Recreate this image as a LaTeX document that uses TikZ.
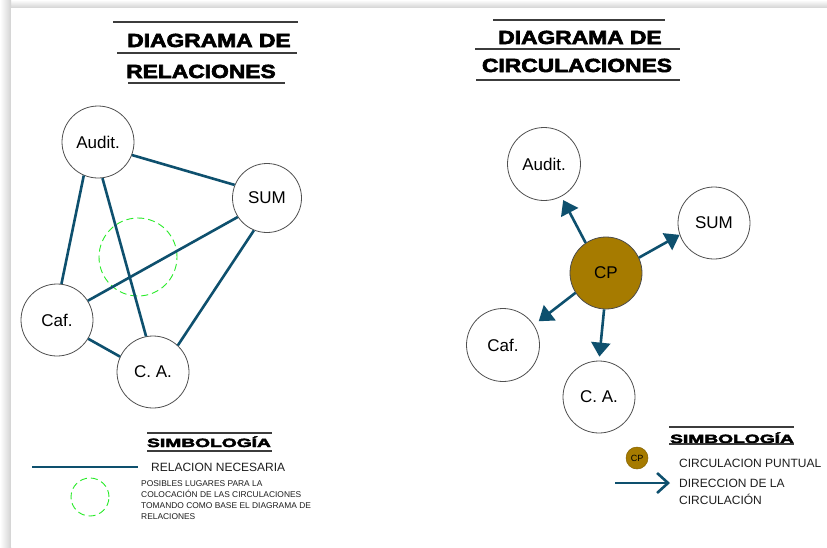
\documentclass[tikz,border=0pt]{standalone}
\usepackage{fontspec}
\setmainfont{Liberation Sans}
\newfontfamily\titlefont[BoldFeatures={FakeBold=3}]{Liberation Sans}
\usetikzlibrary{arrows.meta}
\definecolor{linkcol}{RGB}{14,80,110}
\definecolor{cpbrown}{RGB}{166,123,0}
\definecolor{possgreen}{RGB}{40,235,40}
\definecolor{circlecol}{RGB}{80,80,80}
\definecolor{rulecol}{RGB}{60,60,60}
\definecolor{txtcol}{RGB}{30,30,30}
\begin{document}
\begin{tikzpicture}[x=1pt,y=-1pt,
  room/.style={circle, draw=circlecol, line width=0.8pt, fill=white, minimum size=72pt, inner sep=0pt,
    font=\fontsize{17}{17}\selectfont, text=black},
  rel/.style={draw=linkcol, line width=2.6pt},
  flow/.style={draw=linkcol, line width=2.6pt, -{Triangle[length=14pt,width=19pt]}},
  possible/.style={circle, draw=possgreen, line width=0.9pt, dash pattern=on 7pt off 4pt, inner sep=0pt},
  titletext/.style={anchor=base, inner sep=0pt, font=\titlefont\bfseries\fontsize{19}{19}\selectfont, text=black},
  symtext/.style={anchor=base, inner sep=0pt, font=\titlefont\bfseries\fontsize{12}{12}\selectfont, text=black},
  legtext/.style={anchor=base west, inner sep=0pt, font=\fontsize{12}{12}\selectfont, text=txtcol},
  smalltext/.style={anchor=base west, inner sep=0pt, font=\fontsize{8.4}{8.4}\selectfont, text=txtcol},
  titlerule/.style={draw=rulecol, line width=1.1pt}
]
\useasboundingbox (0,0) rectangle (827,547);
% page and shadow
\fill[white] (0,0) rectangle (827,547);
\shade[top color=white, bottom color=gray!35] (0,0) rectangle (827,8);
\shade[left color=white, right color=gray!35] (0,0) rectangle (11,547);
\fill[white] (11,8) rectangle (827,547);

% ---------- left title ----------
\draw[titlerule] (113,22) -- (298,22);
\node[titletext] (ltitle1) at (209,47) {\scalebox{1.2}[1]{DIAGRAMA DE}};
\draw[titlerule] (117,53) -- (297,53);
\node[titletext] (ltitle2) at (201,78) {\scalebox{1.2}[1]{RELACIONES}};
\draw[titlerule] (128,83) -- (285,83);

% ---------- right title ----------
\draw[titlerule] (493,20) -- (665,20);
\node[titletext] (rtitle1) at (580,44) {\scalebox{1.2}[1]{DIAGRAMA DE}};
\draw[titlerule] (475,49) -- (680,49);
\node[titletext] (rtitle2) at (577,72) {\scalebox{1.2}[1]{CIRCULACIONES}};
\draw[titlerule] (476,80) -- (680,80);

% ---------- relations diagram ----------
\node[possible, minimum size=78pt] (poss) at (138,257) {};
\node[room] (lAud) at (98,142) {Audit.};
\node[room, minimum size=69pt] (lSum) at (267,198) {SUM};
\node[room] (lCaf) at (57,320) {Caf.};
\node[room] (lCA) at (153,372) {C. A.};
\draw[rel] (lAud.-21) -- (lSum.158);
\draw[rel] (lAud.-113) -- (lCaf.83);
\draw[rel] (lAud.-83) -- (lCA.101);
\draw[rel] (lSum.213) -- (lCaf.32);
\draw[rel] (lSum.248) -- (lCA.47);
\draw[rel] (lCaf.-31) -- (lCA.155);

% ---------- circulation diagram ----------
\node[room, minimum size=73pt] (rAud) at (544,164) {Audit.};
\node[room] (rSum) at (714,223) {SUM};
\node[room, minimum size=73pt] (rCaf) at (503,345) {Caf.};
\node[room] (rCA) at (599,397) {C. A.};
\node[room, fill=cpbrown, draw=black!70] (cp) at (606,273) {CP};
\draw[flow, shorten >=4pt] (cp.124) -- (rAud.-62);
\draw[flow] (cp.25) -- (rSum.199);
\draw[flow, shorten >=6pt] (cp.213) -- (rCaf.33);
\draw[flow, shorten >=4pt] (cp.267) -- (rCA.90);

% ---------- left legend ----------
\draw[titlerule] (147,433) -- (272,433);
\node[symtext] (lsym) at (209,447) {\scalebox{1.6}[1]{SIMBOLOGÍA}};
\draw[titlerule] (147,451) -- (272,451);
\coordinate (relA) at (32,467);
\coordinate (relB) at (138,467);
\draw[rel] (relA) -- (relB);
\node[legtext] (relT) at (151,471) {RELACION NECESARIA};
\node[possible, minimum size=38pt] (possL) at (90,497) {};
\node[smalltext] (pl1) at (141,486) {POSIBLES LUGARES PARA LA};
\node[smalltext] (pl2) at (141,497) {COLOCACIÓN DE LAS CIRCULACIONES};
\node[smalltext] (pl3) at (141,508.5) {TOMANDO COMO BASE EL DIAGRAMA DE};
\node[smalltext] (pl4) at (141,519.5) {RELACIONES};

% ---------- right legend ----------
\draw[titlerule] (669,427) -- (794,427);
\node[symtext] (rsym) at (732,443) {\scalebox{1.6}[1]{SIMBOLOGÍA}};
\draw[titlerule] (669,444) -- (794,444);
\node[circle, fill=cpbrown, draw=cpbrown!80!black, line width=0.5pt, minimum size=22pt, inner sep=0pt,
  font=\fontsize{9}{9}\selectfont] (cpL) at (637,458) {CP};
\node[legtext] (cpT) at (679,467) {CIRCULACION PUNTUAL};
\coordinate (arA) at (615,483);
\coordinate (arB) at (670,483);
\draw[draw=linkcol, line width=2.6pt, -{Straight Barb[length=11pt,width=20pt,line width=2.6pt]}] (arA) -- (arB);
\node[legtext] (dirT1) at (679,487) {DIRECCION DE LA};
\node[legtext] (dirT2) at (679,504) {CIRCULACIÓN};
\end{tikzpicture}
\end{document}
